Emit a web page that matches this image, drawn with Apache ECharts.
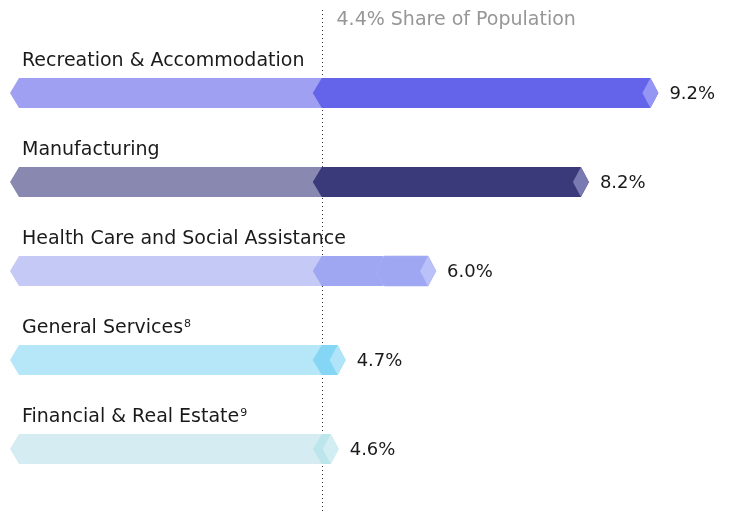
<!DOCTYPE html>
<html>
<head>
<meta charset="utf-8">
<script src="https://cdn.jsdelivr.net/npm/echarts@6/dist/echarts.min.js"></script>
<style>
  html, body { margin: 0; padding: 0; background: #fff; }
  #chart { width: 729px; height: 513px; }
</style>
</head>
<body>
<div id="chart"></div>
<script>
const categories = [
  "Recreation & Accommodation",
  "Manufacturing",
  "Health Care and Social Assistance",
  "General Services",
  "Financial & Real Estate"
];
const footnotes = ["", "", "", "8", "9"];
const values = [9.2, 8.2, 6.0, 4.7, 4.6];
const breaks = [null, null, 5.3, null, null];
const populationShare = 4.4;
const refLabel = "4.4% Share of Population";

const lightColors = ["#a0a0f2", "#8888b0", "#c5c9f6", "#b5e7f8", "#d5edf2"];
const bodyColors = ["#6464ea", "#3a3a7a", "#9fa7f2", "#84d6f4", "#bde5ec"];
const tipColors = ["#9595f3", "#7a7ab2", "#b9c1f8", "#b0e4f8", "#d2eef3"];

const FONT = "DejaVu Sans";
const el = (id) => document.getElementById(id);
const chart = echarts.init(el("chart"));

function seg(xa, xb, cy, h) {
  // chevron segment: point on the left, point on the right
  return [[xa - 8, cy], [xa + 1, cy - h], [xb - 4, cy - h], [xb + 4, cy], [xb - 4, cy + h], [xa + 1, cy + h]];
}

function renderBar(params, api) {
  const idx = api.value(1);
  const v = api.value(0);
  const h = 15;
  const p0 = api.coord([0, idx]);
  const cy = p0[1];
  const x0 = p0[0];
  const xs = api.coord([populationShare, idx])[0];
  const xv = api.coord([v, idx])[0];
  const children = [];

  children.push({
    type: "polygon",
    shape: { points: [[x0 - 5, cy], [x0 + 4, cy - h], [xs + 4, cy - h], [xs + 4, cy + h], [x0 + 4, cy + h]] },
    style: { fill: lightColors[idx] }
  });

  const b = breaks[idx];
  if (b != null) {
    const xb = api.coord([b, idx])[0];
    children.push({ type: "polygon", shape: { points: seg(xs, xb + 4, cy, h) }, style: { fill: bodyColors[idx] } });
    children.push({ type: "polygon", shape: { points: seg(xb, xv, cy, h) }, style: { fill: bodyColors[idx], stroke: "#a9b0f4", lineWidth: 0.6 } });
  } else {
    children.push({ type: "polygon", shape: { points: seg(xs, xv, cy, h) }, style: { fill: bodyColors[idx] } });
  }

  children.push({
    type: "polygon",
    shape: { points: [[xv - 12, cy], [xv - 4, cy - h], [xv + 4, cy], [xv - 4, cy + h]] },
    style: { fill: tipColors[idx] }
  });

  const name = footnotes[idx] ? "{n|" + categories[idx] + "}{s|" + footnotes[idx] + "}" : "{n|" + categories[idx] + "}";
  children.push({
    type: "text",
    x: 22, y: cy - 32,
    style: {
      text: name,
      textAlign: "left",
      textVerticalAlign: "middle",
      rich: {
        n: { fontFamily: FONT, fontSize: 19, fill: "#1a1a1a" },
        s: { fontFamily: FONT, fontSize: 11, fill: "#1a1a1a", verticalAlign: "top", padding: [0, 0, 8, 1] }
      }
    }
  });

  children.push({
    type: "text",
    x: xv + 15, y: cy + 1,
    style: {
      text: v.toFixed(1) + "%",
      textAlign: "left",
      textVerticalAlign: "middle",
      fontFamily: FONT, fontSize: 18, fill: "#1a1a1a"
    }
  });

  return { type: "group", children };
}

function renderRef(params, api) {
  const x = Math.round(api.coord([api.value(0), 0])[0]) + 1.5;
  return {
    type: "group",
    children: [
      { type: "line", shape: { x1: x, y1: 10, x2: x, y2: 513 }, style: { stroke: "#333", lineWidth: 1, lineDash: [1, 3] } },
      { type: "text", x: x + 14, y: 20, style: { text: refLabel, fontFamily: FONT, fontSize: 19, fill: "#969696", textAlign: "left", textVerticalAlign: "middle" } }
    ]
  };
}

chart.setOption({
  animation: false,
  grid: { left: 15, right: 19, top: 48.5, bottom: 19.5 },
  xAxis: { type: "value", min: 0, max: 10, show: false },
  yAxis: { type: "category", data: categories, inverse: true, show: false },
  series: [
    {
      type: "custom",
      renderItem: renderRef,
      data: [[populationShare, 0]],
      z: 1,
      silent: true
    },
    {
      type: "custom",
      renderItem: renderBar,
      data: values.map((v, i) => [v, i]),
      z: 2,
      silent: true
    }
  ]
});
</script>
</body>
</html>
